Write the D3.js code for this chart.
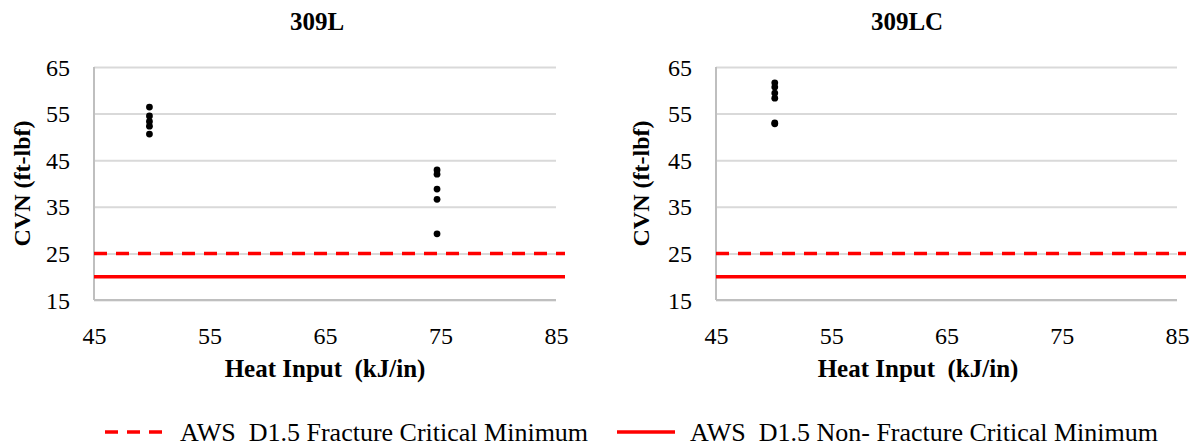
<!DOCTYPE html>
<html><head><meta charset="utf-8">
<script src="https://cdn.jsdelivr.net/npm/d3@7"></script>
<style>
body{margin:0;background:#fff;}
svg{display:block;}
svg text{font-family:"Liberation Serif","Times New Roman",Times,"DejaVu Serif",serif;}
</style>
</head><body>
<svg id="c" width="1199" height="446"></svg>
<script>
const panelTitles = ["309L", "309LC"];
const xTicks = [45, 55, 65, 75, 85];
const yTicks = [15, 25, 35, 45, 55, 65];
const L309_x = [49.8, 49.8, 49.8, 49.8, 49.8, 74.7, 74.7, 74.7, 74.7, 74.7];
const L309_y = [56.4, 54.5, 53.3, 52.3, 50.6, 42.9, 42.0, 38.8, 36.6, 29.2];
const LC309_x = [50.1, 50.1, 50.1, 50.1, 50.1, 50.1];
const LC309_y = [61.6, 60.7, 59.4, 58.3, 53.0, 52.8];
const fractureCritical = 25;
const nonFractureCritical = 20;
const legendLabels = ["AWS  D1.5 Fracture Critical Minimum", "AWS  D1.5 Non- Fracture Critical Minimum"];

const svg = d3.select("#c");
const red = "#ff0000", grid = "#d9d9d9";

const panels = [
  {title: panelTitles[0], xs: L309_x, ys: L309_y, x0: 94, x1: 556, titleX: 317, xTitleX: 325, yTitleX: 22, tickX: 70},
  {title: panelTitles[1], xs: LC309_x, ys: LC309_y, x0: 716, x1: 1177, titleX: 907, xTitleX: 918, yTitleX: 641, tickX: 692}
];
const yTop = 67, yBot = 300;

panels.forEach(p => {
  const g = svg.append("g");
  const x = d3.scaleLinear().domain([45, 85]).range([p.x0, p.x1]);
  const y = d3.scaleLinear().domain([15, 65]).range([yBot, yTop]);

  const ya = d3.axisLeft(y).tickValues(yTicks).tickSize(-(p.x1 - p.x0)).tickFormat(d3.format("d")).tickPadding(p.x0 - p.tickX);
  const yg = g.append("g").attr("transform", `translate(${p.x0},0)`).call(ya);
  yg.attr("font-family", null).attr("font-size", null);
  yg.select(".domain").remove();
  yg.selectAll(".tick line").attr("stroke", grid).attr("stroke-width", 2);
  yg.selectAll(".tick text").style("font-size", "24px").attr("fill", "#000").attr("dy", "0.34em");

  g.append("line").attr("x1", p.x0).attr("x2", p.x0).attr("y1", yTop).attr("y2", yBot)
    .attr("stroke", "#bfbfbf").attr("stroke-width", 2);
  g.append("line").attr("x1", p.x0).attr("x2", p.x1).attr("y1", yBot).attr("y2", yBot)
    .attr("stroke", "#bfbfbf").attr("stroke-width", 2);

  const xa = d3.axisBottom(x).tickValues(xTicks).tickSize(0).tickPadding(27).tickFormat(d3.format("d"));
  const xg = g.append("g").attr("transform", `translate(0,${yBot})`).call(xa);
  xg.attr("font-family", null).attr("font-size", null);
  xg.select(".domain").remove();
  xg.selectAll(".tick text").style("font-size", "24px").attr("fill", "#000");

  const xr = x(85) + 9;
  g.append("line").attr("x1", p.x0).attr("x2", xr).attr("y1", y(fractureCritical)).attr("y2", y(fractureCritical))
    .attr("stroke", red).attr("stroke-width", 3.5).attr("stroke-dasharray", "13,9");
  g.append("line").attr("x1", p.x0).attr("x2", xr).attr("y1", y(nonFractureCritical)).attr("y2", y(nonFractureCritical))
    .attr("stroke", red).attr("stroke-width", 3.5);

  g.selectAll("circle.pt").data(p.xs.map((v, i) => [v, p.ys[i]])).enter().append("circle")
    .attr("cx", d => x(d[0])).attr("cy", d => y(d[1])).attr("r", 3.4).attr("fill", "#000");

  g.append("text").attr("x", p.titleX).attr("y", 30).attr("text-anchor", "middle")
    .style("font-weight", "bold").style("font-size", "25px").text(p.title);
  g.append("text").attr("x", p.xTitleX).attr("y", 377).attr("text-anchor", "middle")
    .style("font-weight", "bold").style("font-size", "25px").style("white-space", "pre")
    .text("Heat Input  (kJ/in)");
  g.append("text").attr("transform", `translate(${p.yTitleX},${(yTop + yBot) / 2}) rotate(-90)`)
    .attr("text-anchor", "middle").attr("dy", "0.35em")
    .style("font-weight", "bold").style("font-size", "24px").text("CVN (ft-lbf)");
});

const lg = svg.append("g");
const ly = 432;
lg.append("line").attr("x1", 105).attr("x2", 166).attr("y1", ly).attr("y2", ly)
  .attr("stroke", red).attr("stroke-width", 3.5).attr("stroke-dasharray", "13,9");
lg.append("text").attr("x", 180).attr("y", ly + 9).style("font-size", "26px").style("white-space", "pre")
  .text(legendLabels[0]);
lg.append("line").attr("x1", 617).attr("x2", 675).attr("y1", ly).attr("y2", ly)
  .attr("stroke", red).attr("stroke-width", 3.5);
lg.append("text").attr("x", 690).attr("y", ly + 9).style("font-size", "26px").style("white-space", "pre")
  .text(legendLabels[1]);
</script>
</body></html>
